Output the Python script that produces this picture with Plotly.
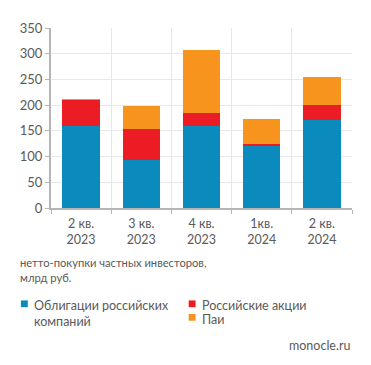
import plotly.graph_objects as go

categories = ["2 кв.<br>2023", "3 кв.<br>2023", "4 кв.<br>2023", "1кв.<br>2024", "2 кв.<br>2024"]
bonds = [160, 94, 159, 122, 171]
stocks = [50, 59, 26, 2, 29]
funds = [1, 45, 122, 49, 54]

series_names = ["Облигации российских<br>компаний", "Российские акции", "Паи"]
colors = ["#0a8abd", "#ec1c24", "#f7941d"]

FONT = "Lato, 'Open Sans', sans-serif"
GRAY = "#5a5a5a"

fig = go.Figure()
for vals, name, col in zip([bonds, stocks, funds], series_names, colors):
    fig.add_trace(go.Bar(x=categories, y=vals, name=name, marker=dict(color=col, line=dict(width=0)),
                         showlegend=False))

fig.update_layout(
    width=363, height=357,
    margin=dict(l=39, r=19, t=14, b=157),
    barmode="stack", bargap=0.38,
    plot_bgcolor="white", paper_bgcolor="white",
    font=dict(family=FONT, color=GRAY, size=12),
)
fig.update_xaxes(
    type="category", tickson="boundaries", showgrid=True, gridcolor="#e8e8e8", gridwidth=1,
    showline=True, linecolor="#b5b5b5", linewidth=1.5, ticks="outside", ticklen=4, tickcolor="#b5b5b5",
    tickfont=dict(size=12.5, color=GRAY), range=[-0.5, 4.5], ticklabelstandoff=3,
)
fig.update_yaxes(
    range=[0, 350], dtick=50, showgrid=True, gridcolor="#e8e8e8", gridwidth=1,
    showline=True, linecolor="#b5b5b5", linewidth=2, ticks="outside", ticklen=4, tickcolor="#b5b5b5",
    tickfont=dict(size=13, color=GRAY), zeroline=False,
)

# caption
fig.add_annotation(xref="paper", yref="paper", x=(14 - 47) / 305, y=(208 - 256) / 186,
                   xanchor="left", yanchor="top", align="left", showarrow=False,
                   text="нетто-покупки частных инвесторов,<br>млрд руб.", font=dict(size=11.2, color=GRAY))

# legend (manual)
legend_pos = [(20, 307), (190, 307), (190, 321)]
for (px, py), name, col in zip(legend_pos, series_names, colors):
    fig.add_shape(type="rect", xref="paper", yref="paper",
                  x0=(px - 3.5 - 47) / 305, x1=(px + 3.5 - 47) / 305,
                  y0=(208 - py - 3.5) / 186, y1=(208 - py + 3.5) / 186,
                  fillcolor=col, line=dict(width=0))
    fig.add_annotation(xref="paper", yref="paper", x=(px + 8 - 47) / 305, y=(208 - py + 8) / 186,
                       xanchor="left", yanchor="top", align="left", showarrow=False,
                       text=name, font=dict(size=12.5, color=GRAY))

fig.add_annotation(xref="paper", yref="paper", x=1, y=(208 - 350) / 186, xanchor="right", yanchor="middle",
                   showarrow=False, text="monocle.ru", font=dict(size=12.5, color=GRAY))

fig.write_html("out.html")
